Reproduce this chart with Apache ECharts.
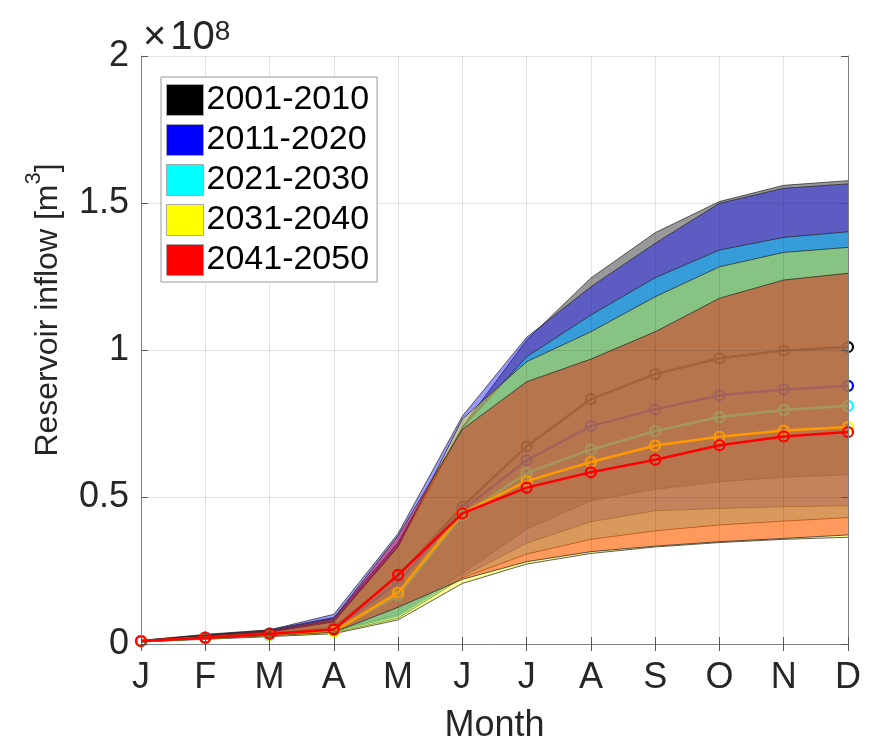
<!DOCTYPE html>
<html><head><meta charset="utf-8">
<script src="https://cdn.jsdelivr.net/npm/echarts@6/dist/echarts.min.js"></script>
<style>html,body{margin:0;padding:0;background:#fff}#c{width:870px;height:741px}</style>
</head><body><div id="c"></div>
<script>
// values in units of 1e8 m^3
const months = ['J','F','M','A','M','J','J','A','S','O','N','D'];
const yTicks = [0, 0.5, 1, 1.5, 2];
const decades = ['2001-2010','2011-2020','2021-2030','2031-2040','2041-2050'];
const colors = [[0,0,0],[0,0,255],[0,255,255],[255,255,0],[255,0,0]];

const max2001 = [0.012,0.033,0.048,0.090,0.345,0.738,1.034,1.245,1.399,1.505,1.560,1.576];
const max2011 = [0.012,0.030,0.048,0.101,0.376,0.775,1.043,1.215,1.363,1.499,1.550,1.565];
const max2021 = [0.011,0.028,0.042,0.080,0.332,0.735,0.977,1.119,1.246,1.340,1.383,1.402];
const max2031 = [0.011,0.028,0.040,0.075,0.331,0.765,0.960,1.062,1.181,1.283,1.332,1.349];
const max2041 = [0.012,0.030,0.045,0.087,0.368,0.730,0.892,0.969,1.062,1.176,1.238,1.261];

const min2001 = [0.008,0.020,0.030,0.045,0.100,0.240,0.390,0.487,0.526,0.552,0.567,0.576];
const min2011 = [0.008,0.019,0.029,0.042,0.095,0.230,0.343,0.416,0.453,0.461,0.467,0.470];
const min2021 = [0.007,0.018,0.028,0.038,0.088,0.225,0.306,0.356,0.385,0.405,0.418,0.430];
const min2031 = [0.007,0.016,0.025,0.035,0.082,0.206,0.272,0.308,0.330,0.345,0.356,0.363];
const min2041 = [0.008,0.018,0.028,0.040,0.125,0.220,0.280,0.314,0.333,0.348,0.359,0.371];

const med2001 = [0.010,0.022,0.035,0.055,0.230,0.467,0.672,0.833,0.918,0.972,0.998,1.010];
const med2011 = [0.010,0.020,0.032,0.050,0.210,0.456,0.625,0.741,0.798,0.846,0.866,0.878];
const med2021 = [0.010,0.020,0.030,0.045,0.165,0.438,0.581,0.661,0.724,0.772,0.796,0.810];
const med2031 = [0.010,0.020,0.031,0.042,0.175,0.445,0.554,0.619,0.675,0.705,0.726,0.738];
const med2041 = [0.010,0.021,0.034,0.049,0.235,0.444,0.532,0.584,0.627,0.676,0.706,0.721];

const maxs = [max2001,max2011,max2021,max2031,max2041];
const mins = [min2001,min2011,min2021,min2031,min2041];
const meds = [med2001,med2011,med2021,med2031,med2041];

const rgb = c => 'rgb(' + c.join(',') + ')';
const FONT = "'Liberation Sans', Arial, Helvetica, sans-serif";
const edge = 'rgba(40,40,40,0.75)';

const series = [];
decades.forEach((name, i) => {
  const diff = maxs[i].map((v, j) => +(v - mins[i][j]).toFixed(4));
  series.push({
    name: name + ' min', type: 'line', stack: 'band' + i, data: mins[i],
    symbol: 'none', lineStyle: { color: edge, width: 1 }, z: 10 * i + 2, silent: true
  });
  series.push({
    name: name, type: 'line', stack: 'band' + i, data: diff,
    symbol: 'none', lineStyle: { color: edge, width: 1 },
    itemStyle: { color: rgb(colors[i]) },
    areaStyle: { color: rgb(colors[i]), opacity: 0.4 }, z: 10 * i + 1, silent: true
  });
  series.push({
    name: name + ' median', type: 'line', data: meds[i], clip: false,
    symbol: 'circle', symbolSize: 10, showAllSymbol: true,
    lineStyle: { color: rgb(colors[i]), width: 2.5 },
    itemStyle: { color: 'rgba(0,0,0,0)', borderColor: rgb(colors[i]), borderWidth: 2.2 },
    z: 10 * i + 3, silent: true
  });
});

const axisCommon = {
  axisLine: { show: true, lineStyle: { color: '#808080', width: 1 } },
  axisTick: { show: true, inside: true, length: 7, lineStyle: { color: '#555' } }
};

const chart = echarts.init(document.getElementById('c'), null, { renderer: 'canvas' });
chart.setOption({
  animation: false,
  backgroundColor: '#fff',
  grid: { left: 141, right: 22, top: 56, bottom: 97, containLabel: false, outerBoundsMode: 'none' },
  xAxis: [{
    type: 'category', data: months, boundaryGap: false, z: 60,
    ...axisCommon,
    axisLabel: { color: '#262626', fontSize: 36, fontFamily: FONT, margin: 16, interval: 0 },
    splitLine: { show: true, interval: 0, lineStyle: { color: 'rgba(38,38,38,0.13)', width: 1 } },
    name: 'Month', nameLocation: 'middle', nameGap: 64,
    nameTextStyle: { color: '#262626', fontSize: 36, fontFamily: FONT }
  }, {
    type: 'category', data: months, boundaryGap: false, position: 'top', z: 60,
    ...axisCommon, axisLabel: { show: false }, splitLine: { show: false }
  }],
  yAxis: [{
    type: 'value', min: yTicks[0], max: yTicks[yTicks.length - 1], interval: 0.5, z: 60,
    ...axisCommon,
    axisLabel: { color: '#262626', fontSize: 36, fontFamily: FONT, margin: 12 },
    splitLine: { show: true, lineStyle: { color: 'rgba(38,38,38,0.13)', width: 1 } }
  }, {
    type: 'value', min: yTicks[0], max: yTicks[yTicks.length - 1], interval: 0.5, position: 'right', z: 60,
    ...axisCommon, axisLabel: { show: false }, splitLine: { show: false }
  }],
  legend: {
    data: decades.map((d, i) => ({
      name: d, icon: 'rect',
      itemStyle: { color: rgb(colors[i]), borderColor: '#a8a8a8', borderWidth: 1, opacity: 1 }
    })),
    orient: 'vertical', left: 161, top: 77, z: 100,
    itemWidth: 37, itemHeight: 31, itemGap: 6,
    padding: [6, 8, 5, 5],
    backgroundColor: '#fff', borderColor: '#9a9a9a', borderWidth: 1, borderRadius: 0,
    selectedMode: false,
    textStyle: { color: '#000', fontSize: 34, fontFamily: FONT, lineHeight: 31, padding: [0, 0, 0, -2] }
  },
  graphic: [{
    type: 'text', left: 143, top: 18, z: 100,
    style: {
      text: '{a|×}{c|10}{b|8}', fill: '#262626',
      rich: {
        a: { fontSize: 40, lineHeight: 40, fontFamily: FONT, fill: '#262626', padding: [0, 4, 0, 0] },
        c: { fontSize: 40, lineHeight: 40, fontFamily: FONT, fill: '#262626' },
        b: { fontSize: 28, lineHeight: 12, verticalAlign: 'top', fontFamily: FONT, fill: '#262626' }
      }
    }
  }, {
    type: 'text', x: 48, y: 310, rotation: Math.PI / 2, z: 100,
    style: {
      text: '{n|Reservoir inflow [m}{s|3}{n|]}', align: 'center', verticalAlign: 'middle',
      fill: '#262626',
      rich: {
        n: { fontSize: 32, lineHeight: 50, fontFamily: FONT, fill: '#262626' },
        s: { fontSize: 22, lineHeight: 12, verticalAlign: 'top', fontFamily: FONT, fill: '#262626' }
      }
    }
  }],
  series: series
});
</script></body></html>
